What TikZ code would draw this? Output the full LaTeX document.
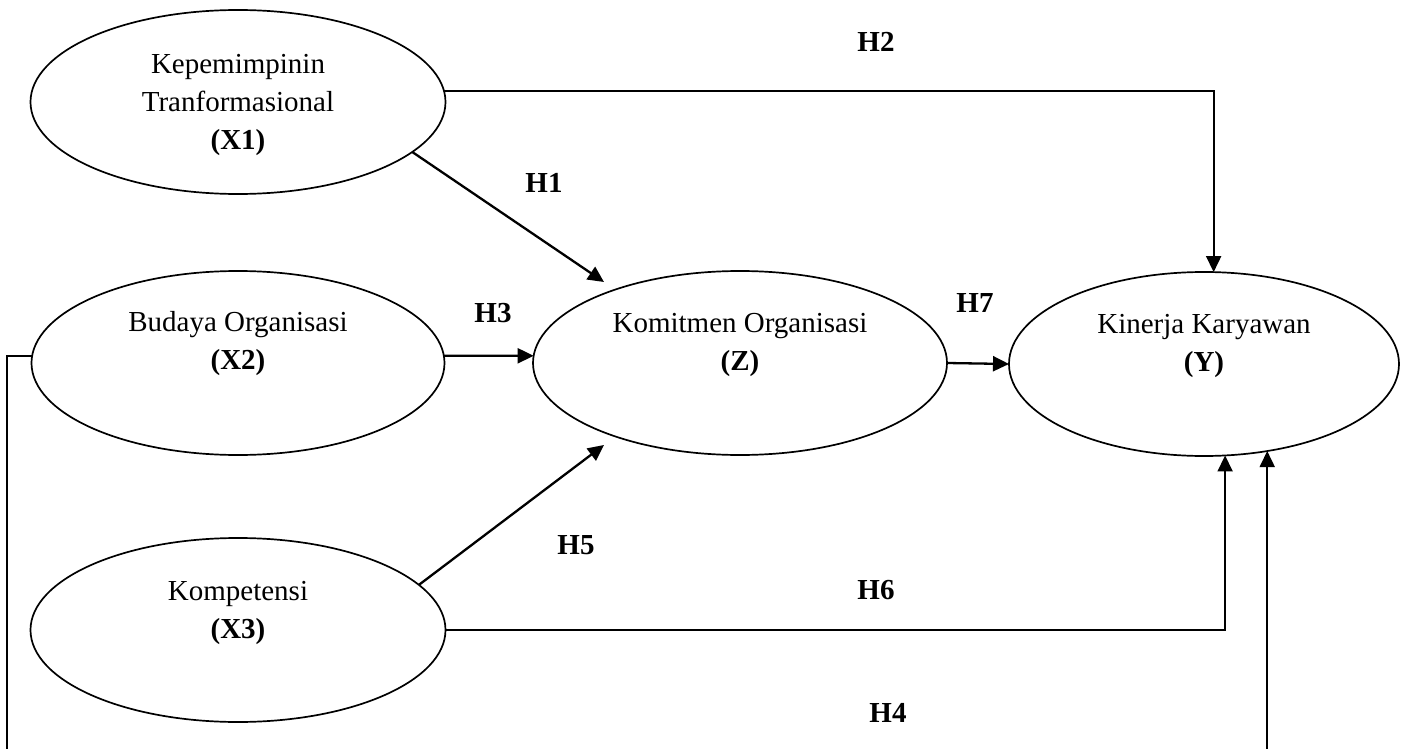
\documentclass[tikz,border=0pt]{standalone}
\usepackage{fontspec}
\setmainfont{Liberation Serif}
\usetikzlibrary{arrows.meta,shapes.geometric}
\begin{document}
\begin{tikzpicture}[x=1pt,y=-1pt,
  var/.style={ellipse,draw,line width=1.7pt,minimum width=#1,minimum height=184pt,inner sep=0pt,outer sep=0pt},
  txt/.style={align=center,font=\fontsize{29}{38}\selectfont,inner sep=0pt},
  hyp/.style={font=\fontsize{29}{34}\selectfont\bfseries,inner sep=0pt},
  tip/.style={-{Triangle[length=16pt,width=15pt]}},
  arr/.style={line width=2.3pt,tip},
  ln/.style={line width=1.8pt}]
\useasboundingbox (0,0) rectangle (1401,749);
\clip (0,0) rectangle (1401,749);
% variables
\node[var=415pt] (X1) at (238,102) {};
\node[var=413pt] (X2) at (238,363) {};
\node[var=415pt] (X3) at (238,630) {};
\node[var=414pt] (Z) at (740,363) {};
\node[var=390pt] (Y) at (1204,364) {};
% texts
\node[txt] (X1t) at (238,105) {Kepemimpinin\\Tranformasional\\\textbf{(X1)}};
\node[txt] (X2t) at (238,344) {Budaya Organisasi\\\textbf{(X2)}};
\node[txt] (X3t) at (238,613) {Kompetensi\\\textbf{(X3)}};
\node[txt] (Zt) at (740,345) {Komitmen Organisasi\\\textbf{(Z)}};
\node[txt] (Yt) at (1204,346) {Kinerja Karyawan\\\textbf{(Y)}};
% free ends
\coordinate (h1end) at (604,282);
\coordinate (h5end) at (604,445);
\coordinate (h4corner) at (7,775);
% connectors
\draw[arr] (X1.-16) -- (h1end);
\draw[ln,tip] (X1.3) -| (Y.84);
\draw[arr] (X2.2) -- (Z.178);
\draw[arr] (Z.east) -- (Y.west);
\draw[arr] (X3.14) -- (h5end);
\draw[ln,tip] (X3.east) -| (Y.-77);
\draw[ln,tip] (X2.178) -| (h4corner) -| (Y.-54);
% labels
\node[hyp] (H1) at (544,183) {H1};
\node[hyp] (H2) at (876,42) {H2};
\node[hyp] (H3) at (493,313) {H3};
\node[hyp] (H4) at (888,713) {H4};
\node[hyp] (H5) at (576,545) {H5};
\node[hyp] (H6) at (876,590) {H6};
\node[hyp] (H7) at (975,303) {H7};
\end{tikzpicture}
\end{document}
